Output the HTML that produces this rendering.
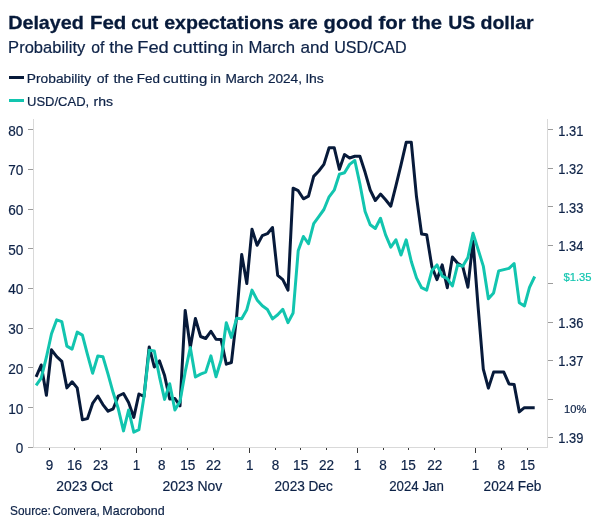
<!DOCTYPE html><html><head><meta charset="utf-8"><title>chart</title><style>html,body{margin:0;padding:0;background:#fff}svg{display:block;will-change:transform;opacity:0.999}text{font-family:"Liberation Sans",sans-serif;fill:#0d2247;stroke:#0d2247;stroke-width:0.2px}</style></head><body>
<svg width="604" height="529" viewBox="0 0 604 529">
<rect width="604" height="529" fill="#fff"/>
<text x="8.17" y="29.1" font-size="19" font-weight="bold" textLength="75.70" lengthAdjust="spacingAndGlyphs" style="fill:#071a3a;stroke:#071a3a;stroke-width:0.3px">Delayed</text>
<text x="89.92" y="29.1" font-size="19" font-weight="bold" textLength="36.40" lengthAdjust="spacingAndGlyphs" style="fill:#071a3a;stroke:#071a3a;stroke-width:0.3px">Fed</text>
<text x="131.22" y="29.1" font-size="19" font-weight="bold" textLength="27.00" lengthAdjust="spacingAndGlyphs" style="fill:#071a3a;stroke:#071a3a;stroke-width:0.3px">cut</text>
<text x="164.16" y="29.1" font-size="19" font-weight="bold" textLength="119.83" lengthAdjust="spacingAndGlyphs" style="fill:#071a3a;stroke:#071a3a;stroke-width:0.3px">expectations</text>
<text x="288.84" y="29.1" font-size="19" font-weight="bold" textLength="28.94" lengthAdjust="spacingAndGlyphs" style="fill:#071a3a;stroke:#071a3a;stroke-width:0.3px">are</text>
<text x="323.62" y="29.1" font-size="19" font-weight="bold" textLength="49.13" lengthAdjust="spacingAndGlyphs" style="fill:#071a3a;stroke:#071a3a;stroke-width:0.3px">good</text>
<text x="378.43" y="29.1" font-size="19" font-weight="bold" textLength="27.22" lengthAdjust="spacingAndGlyphs" style="fill:#071a3a;stroke:#071a3a;stroke-width:0.3px">for</text>
<text x="411.73" y="29.1" font-size="19" font-weight="bold" textLength="30.35" lengthAdjust="spacingAndGlyphs" style="fill:#071a3a;stroke:#071a3a;stroke-width:0.3px">the</text>
<text x="448.31" y="29.1" font-size="19" font-weight="bold" textLength="27.00" lengthAdjust="spacingAndGlyphs" style="fill:#071a3a;stroke:#071a3a;stroke-width:0.3px">US</text>
<text x="480.44" y="29.1" font-size="19" font-weight="bold" textLength="53.25" lengthAdjust="spacingAndGlyphs" style="fill:#071a3a;stroke:#071a3a;stroke-width:0.3px">dollar</text>
<text x="8.13" y="53" font-size="15.7" textLength="77.13" lengthAdjust="spacingAndGlyphs">Probability</text>
<text x="91.31" y="53" font-size="15.7" textLength="13.16" lengthAdjust="spacingAndGlyphs">of</text>
<text x="109.22" y="53" font-size="15.7" textLength="24.22" lengthAdjust="spacingAndGlyphs">the</text>
<text x="137.29" y="53" font-size="15.7" textLength="31.53" lengthAdjust="spacingAndGlyphs">Fed</text>
<text x="172.96" y="53" font-size="15.7" textLength="55.30" lengthAdjust="spacingAndGlyphs">cutting</text>
<text x="232.01" y="53" font-size="15.7" textLength="11.44" lengthAdjust="spacingAndGlyphs">in</text>
<text x="248.62" y="53" font-size="15.7" textLength="46.40" lengthAdjust="spacingAndGlyphs">March</text>
<text x="300.52" y="53" font-size="15.7" textLength="28.58" lengthAdjust="spacingAndGlyphs">and</text>
<text x="334.24" y="53" font-size="15.7" textLength="72.43" lengthAdjust="spacingAndGlyphs">USD/CAD</text>
<rect x="9" y="76" width="15" height="3" fill="#071a3a"/>
<text x="26.85" y="82.5" font-size="12.9" textLength="64.22" lengthAdjust="spacingAndGlyphs">Probability</text>
<text x="96.77" y="82.5" font-size="12.9" textLength="11.67" lengthAdjust="spacingAndGlyphs">of</text>
<text x="113.45" y="82.5" font-size="12.9" textLength="20.15" lengthAdjust="spacingAndGlyphs">the</text>
<text x="136.87" y="82.5" font-size="12.9" textLength="23.18" lengthAdjust="spacingAndGlyphs">Fed</text>
<text x="163.02" y="82.5" font-size="12.9" textLength="44.26" lengthAdjust="spacingAndGlyphs">cutting</text>
<text x="210.28" y="82.5" font-size="12.9" textLength="10.76" lengthAdjust="spacingAndGlyphs">in</text>
<text x="225.45" y="82.5" font-size="12.9" textLength="38.15" lengthAdjust="spacingAndGlyphs">March</text>
<text x="267.90" y="82.5" font-size="12.9" textLength="34.05" lengthAdjust="spacingAndGlyphs">2024,</text>
<text x="305.85" y="82.5" font-size="12.9" textLength="17.90" lengthAdjust="spacingAndGlyphs">lhs</text>
<rect x="9" y="99" width="15" height="3" fill="#12c5af"/>
<text x="26.99" y="105.7" font-size="12.9" textLength="62.22" lengthAdjust="spacingAndGlyphs">USD/CAD,</text>
<text x="93.54" y="105.7" font-size="12.9" textLength="19.53" lengthAdjust="spacingAndGlyphs">rhs</text>
<g shape-rendering="crispEdges" stroke-width="1" fill="none">
<path stroke="#d9d9d9" d="M33.5 119V448M547.5 119V448M33 447.5H548"/>
<path stroke="#9c9c9c" d="M28 447.5H33"/>
<path stroke="#9c9c9c" d="M28 407.5H33"/>
<path stroke="#9c9c9c" d="M28 367.5H33"/>
<path stroke="#9c9c9c" d="M28 328.5H33"/>
<path stroke="#9c9c9c" d="M28 288.5H33"/>
<path stroke="#9c9c9c" d="M28 248.5H33"/>
<path stroke="#9c9c9c" d="M28 209.5H33"/>
<path stroke="#9c9c9c" d="M28 169.5H33"/>
<path stroke="#9c9c9c" d="M28 129.5H33"/>
<path stroke="#9c9c9c" d="M548 129.5H553"/>
<path stroke="#9c9c9c" d="M548 168.5H553"/>
<path stroke="#9c9c9c" d="M548 206.5H553"/>
<path stroke="#9c9c9c" d="M548 245.5H553"/>
<path stroke="#9c9c9c" d="M548 283.5H553"/>
<path stroke="#9c9c9c" d="M548 322.5H553"/>
<path stroke="#9c9c9c" d="M548 360.5H553"/>
<path stroke="#9c9c9c" d="M548 399.5H553"/>
<path stroke="#9c9c9c" d="M548 437.5H553"/>
<path stroke="#3a3a3a" d="M49.5 448V450"/>
<path stroke="#3a3a3a" d="M74.5 448V450"/>
<path stroke="#3a3a3a" d="M100.5 448V450"/>
<path stroke="#3a3a3a" d="M161.5 448V450"/>
<path stroke="#3a3a3a" d="M187.5 448V450"/>
<path stroke="#3a3a3a" d="M213.5 448V450"/>
<path stroke="#3a3a3a" d="M275.5 448V450"/>
<path stroke="#3a3a3a" d="M300.5 448V450"/>
<path stroke="#3a3a3a" d="M326.5 448V450"/>
<path stroke="#3a3a3a" d="M383.5 448V450"/>
<path stroke="#3a3a3a" d="M408.5 448V450"/>
<path stroke="#3a3a3a" d="M434.5 448V450"/>
<path stroke="#3a3a3a" d="M501.5 448V450"/>
<path stroke="#3a3a3a" d="M527.5 448V450"/>
<path stroke="#3a3a3a" d="M136.5 448V453"/>
<path stroke="#3a3a3a" d="M249.5 448V453"/>
<path stroke="#3a3a3a" d="M357.5 448V453"/>
<path stroke="#3a3a3a" d="M475.5 448V453"/>
</g>
<text x="15.8" y="452.8" font-size="14" textLength="7.5" lengthAdjust="spacingAndGlyphs">0</text>
<text x="8.3" y="413.8" font-size="14" textLength="15.1" lengthAdjust="spacingAndGlyphs">10</text>
<text x="8.3" y="373.8" font-size="14" textLength="15.1" lengthAdjust="spacingAndGlyphs">20</text>
<text x="8.3" y="333.8" font-size="14" textLength="15.1" lengthAdjust="spacingAndGlyphs">30</text>
<text x="8.3" y="293.8" font-size="14" textLength="15.1" lengthAdjust="spacingAndGlyphs">40</text>
<text x="8.3" y="254.8" font-size="14" textLength="15.1" lengthAdjust="spacingAndGlyphs">50</text>
<text x="8.3" y="214.8" font-size="14" textLength="15.1" lengthAdjust="spacingAndGlyphs">60</text>
<text x="8.3" y="174.8" font-size="14" textLength="15.1" lengthAdjust="spacingAndGlyphs">70</text>
<text x="8.3" y="135.8" font-size="14" textLength="15.1" lengthAdjust="spacingAndGlyphs">80</text>
<text x="558.3" y="135.8" font-size="14" textLength="25" lengthAdjust="spacingAndGlyphs">1.31</text>
<text x="558.3" y="173.8" font-size="14" textLength="25" lengthAdjust="spacingAndGlyphs">1.32</text>
<text x="558.3" y="212.8" font-size="14" textLength="25" lengthAdjust="spacingAndGlyphs">1.33</text>
<text x="558.3" y="250.8" font-size="14" textLength="25" lengthAdjust="spacingAndGlyphs">1.34</text>
<text x="558.3" y="327.8" font-size="14" textLength="25" lengthAdjust="spacingAndGlyphs">1.36</text>
<text x="558.3" y="365.8" font-size="14" textLength="25" lengthAdjust="spacingAndGlyphs">1.37</text>
<text x="558.3" y="442.5" font-size="14" textLength="25" lengthAdjust="spacingAndGlyphs">1.39</text>
<text x="563.5" y="280.6" font-size="11.6" textLength="28" lengthAdjust="spacingAndGlyphs" style="fill:#12c5af;stroke:#12c5af">$1.35</text>
<text x="564" y="412.7" font-size="11.6" textLength="22.3" lengthAdjust="spacingAndGlyphs">10%</text>
<text x="45.7" y="470.4" font-size="14" textLength="7.5" lengthAdjust="spacingAndGlyphs">9</text>
<text x="67.0" y="470.4" font-size="14" textLength="15.1" lengthAdjust="spacingAndGlyphs">16</text>
<text x="93.0" y="470.4" font-size="14" textLength="15.1" lengthAdjust="spacingAndGlyphs">23</text>
<text x="132.7" y="470.4" font-size="14" textLength="7.5" lengthAdjust="spacingAndGlyphs">1</text>
<text x="157.9" y="470.4" font-size="14" textLength="7.5" lengthAdjust="spacingAndGlyphs">8</text>
<text x="180.3" y="470.4" font-size="14" textLength="15.1" lengthAdjust="spacingAndGlyphs">15</text>
<text x="206.0" y="470.4" font-size="14" textLength="15.1" lengthAdjust="spacingAndGlyphs">22</text>
<text x="245.9" y="470.4" font-size="14" textLength="7.5" lengthAdjust="spacingAndGlyphs">1</text>
<text x="271.7" y="470.4" font-size="14" textLength="7.5" lengthAdjust="spacingAndGlyphs">8</text>
<text x="293.1" y="470.4" font-size="14" textLength="15.1" lengthAdjust="spacingAndGlyphs">15</text>
<text x="318.9" y="470.4" font-size="14" textLength="15.1" lengthAdjust="spacingAndGlyphs">22</text>
<text x="353.8" y="470.4" font-size="14" textLength="7.5" lengthAdjust="spacingAndGlyphs">1</text>
<text x="379.3" y="470.4" font-size="14" textLength="7.5" lengthAdjust="spacingAndGlyphs">8</text>
<text x="400.8" y="470.4" font-size="14" textLength="15.1" lengthAdjust="spacingAndGlyphs">15</text>
<text x="427.2" y="470.4" font-size="14" textLength="15.1" lengthAdjust="spacingAndGlyphs">22</text>
<text x="471.7" y="470.4" font-size="14" textLength="7.5" lengthAdjust="spacingAndGlyphs">1</text>
<text x="497.5" y="470.4" font-size="14" textLength="7.5" lengthAdjust="spacingAndGlyphs">8</text>
<text x="520.0" y="470.4" font-size="14" textLength="15.1" lengthAdjust="spacingAndGlyphs">15</text>
<text x="56.30" y="491.4" font-size="14" textLength="56.34" lengthAdjust="spacingAndGlyphs">2023 Oct</text>
<text x="162.49" y="491.4" font-size="14" textLength="59.89" lengthAdjust="spacingAndGlyphs">2023 Nov</text>
<text x="274.51" y="491.4" font-size="14" textLength="58.24" lengthAdjust="spacingAndGlyphs">2023 Dec</text>
<text x="389.23" y="491.4" font-size="14" textLength="54.61" lengthAdjust="spacingAndGlyphs">2024 Jan</text>
<text x="483.61" y="491.4" font-size="14" textLength="57.75" lengthAdjust="spacingAndGlyphs">2024 Feb</text>
<text x="10.04" y="515" font-size="12.4" textLength="40.87" lengthAdjust="spacingAndGlyphs">Source:</text>
<text x="52.38" y="515" font-size="12.4" textLength="47.33" lengthAdjust="spacingAndGlyphs">Convera,</text>
<text x="102.38" y="515" font-size="12.4" textLength="62.26" lengthAdjust="spacingAndGlyphs">Macrobond</text>
<polyline points="36.1,376.8 41.2,365.0 46.4,395.3 51.5,349.8 56.7,356.7 61.8,361.4 66.9,387.9 72.1,381.8 77.2,387.9 82.4,419.8 87.5,418.6 92.6,403.4 97.8,396.0 102.9,404.6 108.1,411.2 113.2,408.8 118.3,396.0 123.5,393.5 128.6,402.6 133.8,417.4 138.9,394.0 144.0,396.5 149.2,346.9 154.3,367.0 159.5,360.9 164.6,375.6 169.7,399.0 174.9,398.5 180.0,405.8 185.2,310.4 190.3,347.5 195.4,318.5 200.6,336.5 205.7,338.5 210.9,331.3 216.0,339.3 221.1,339.6 226.3,364.2 231.4,362.5 236.6,317.1 241.7,254.6 246.8,283.5 252.0,229.2 257.1,245.2 262.3,235.6 267.4,233.7 272.5,227.5 277.7,275.4 282.8,279.6 288.0,290.2 293.1,188.2 298.2,190.7 303.4,198.8 308.5,196.1 313.7,176.4 318.8,171.0 323.9,164.4 329.1,147.7 334.2,147.7 339.4,169.3 344.5,154.6 349.6,158.0 354.8,156.3 359.9,156.3 365.1,172.3 370.2,190.0 375.3,200.5 380.5,194.1 385.6,199.8 390.8,206.2 395.9,185.8 401.0,164.9 406.2,142.3 411.3,142.3 416.5,196.8 421.6,234.0 426.7,234.7 431.9,266.8 437.0,279.6 442.2,264.9 447.3,287.7 452.4,257.0 457.6,263.2 462.7,266.3 467.9,287.2 473.0,241.0 478.1,306.9 483.3,369.1 488.4,388.1 493.6,372.1 498.7,372.1 503.8,372.1 509.0,383.9 514.1,384.4 519.3,411.9 524.4,407.7 529.5,407.7 534.7,407.7" fill="none" stroke="#071a3a" stroke-width="3" stroke-linejoin="round" stroke-linecap="butt"/>
<polyline points="36.1,385.4 41.2,378.1 46.4,357.2 51.5,333.8 56.7,319.8 61.8,321.6 66.9,346.1 72.1,349.1 77.2,332.1 82.4,335.1 87.5,354.7 92.6,373.2 97.8,356.0 102.9,356.7 108.1,374.4 113.2,392.8 118.3,408.8 123.5,430.9 128.6,410.0 133.8,432.1 138.9,429.7 144.0,396.5 149.2,350.3 154.3,351.0 159.5,376.8 164.6,399.4 169.7,383.7 174.9,410.0 180.0,401.4 185.2,371.9 190.3,347.5 195.4,377.0 200.6,374.1 205.7,372.1 210.9,355.9 216.0,376.7 221.1,360.0 226.3,322.7 231.4,337.4 236.6,318.3 241.7,318.8 246.8,309.7 252.0,290.1 257.1,299.9 262.3,305.8 267.4,309.5 272.5,318.9 277.7,314.8 282.8,309.3 288.0,322.6 293.1,313.0 298.2,250.8 303.4,236.5 308.5,243.7 313.7,223.6 318.8,216.6 323.9,209.5 329.1,196.8 334.2,190.2 339.4,174.2 344.5,172.8 349.6,164.4 354.8,160.5 359.9,184.0 365.1,211.5 370.2,224.8 375.3,228.5 380.5,218.3 385.6,234.9 390.8,247.2 395.9,239.8 401.0,255.0 406.2,239.8 411.3,261.5 416.5,277.9 421.6,287.7 426.7,290.2 431.9,270.5 437.0,264.9 442.2,276.2 447.3,278.6 452.4,286.0 457.6,264.9 462.7,266.2 467.9,257.5 473.0,233.2 478.1,249.5 483.3,266.1 488.4,298.7 493.6,292.9 498.7,270.9 503.8,269.6 509.0,268.4 514.1,263.5 519.3,302.8 524.4,306.0 529.5,287.3 534.7,276.5" fill="none" stroke="#12c5af" stroke-width="3" stroke-linejoin="round" stroke-linecap="butt"/>
</svg></body></html>
